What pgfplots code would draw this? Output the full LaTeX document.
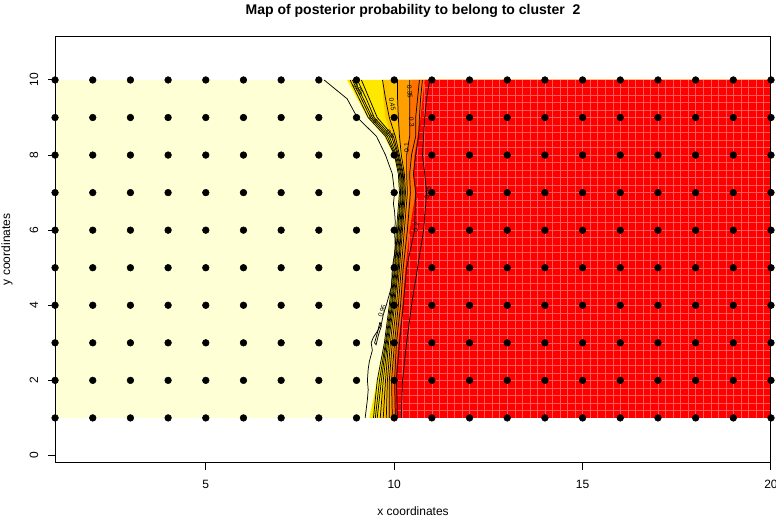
\documentclass[border=0pt]{standalone}
\usepackage{fontspec}
\setmainfont{Liberation Sans}
\usepackage{pgfplots}
\pgfplotsset{compat=1.18}
\definecolor{lyel}{HTML}{FFFFD5}
\definecolor{cyel}{HTML}{FFE800}
\definecolor{cgold}{HTML}{FFC400}
\definecolor{corange}{HTML}{FF9F00}
\definecolor{cdorange}{HTML}{FF7000}
\definecolor{cred}{HTML}{FF0000}
\definecolor{gridred}{HTML}{FF5A5A}
\begin{document}
\begin{tikzpicture}
\begin{axis}[
  scale only axis, width=536.25pt, height=319.5pt,
  xmin=1, xmax=20, ymin=-0.19, ymax=11.17,
  axis line style={black, line width=0.75pt},
  xtick={5,10,15,20}, ytick={0,2,4,6,8,10},
  tick align=outside, tick pos=left, major tick length=5.25pt,
  tick style={black, line width=0.75pt},
  /pgf/number format/assume math mode=true,
  ticklabel style={font=\fontsize{9}{10.8}\selectfont},
  yticklabel style={rotate=90, anchor=base, yshift=7.5pt},
  xticklabel style={anchor=base, yshift=-14.25pt},
  title={Map of posterior probability to belong to cluster\ \ 2},
  title style={font=\bfseries\fontsize{10.5}{12.6}\selectfont, at={(axis description cs:0.5,1)}, anchor=base, yshift=10.5pt},
  xlabel={x coordinates}, ylabel={y coordinates},
  label style={font=\fontsize{9}{10.8}\selectfont},
  xlabel style={at={(axis description cs:0.5,0)}, anchor=base, yshift=-39.75pt},
  ylabel style={at={(axis description cs:0,0.5)}, anchor=base, yshift=33.75pt},
  axis on top,
  clip mode=individual,
]
% colour bands
\addplot[fill=lyel, draw=none] coordinates {(1,1)(20,1)(20,10)(1,10)} --cycle;
\addplot[fill=cyel, draw=none] coordinates {(8.75,10)(9.02,9.5)(9.29,9)(9.74,8.5)(9.98,8)(10.11,7.5)(10.14,7)(10.06,6)(9.98,5)(9.87,4)(9.74,3)(9.55,2)(9.34,1)(20,1)(20,10)} --cycle;
\addplot[fill=cgold, draw=none] coordinates {(9.69,10)(9.71,9.5)(9.77,9)(9.93,8.5)(10.11,8)(10.19,7.5)(10.22,7)(10.14,6)(10.06,5)(9.98,4)(9.85,3)(9.74,2)(9.63,1)(20,1)(20,10)} --cycle;
\addplot[fill=corange, draw=none] coordinates {(10.06,10)(10.09,9.5)(10.09,9)(10.14,8.5)(10.22,8)(10.27,7.5)(10.30,7)(10.22,6)(10.14,5)(10.06,4)(9.95,3)(9.87,2)(9.82,1)(20,1)(20,10)} --cycle;
\addplot[fill=cdorange, draw=none] coordinates {(10.46,10)(10.43,9.5)(10.41,9)(10.41,8.5)(10.35,8)(10.35,7.5)(10.41,7)(10.30,6)(10.22,5)(10.14,4)(10.03,3)(9.95,2)(9.93,1)(20,1)(20,10)} --cycle;
\addplot[fill=cred, draw=none] coordinates {(10.81,10)(10.75,9.5)(10.70,9)(10.62,8.5)(10.54,8)(10.51,7.5)(10.57,7)(10.41,6)(10.30,5)(10.22,4)(10.11,3)(10.03,2)(10.03,1)(20,1)(20,10)} --cycle;
% faint cell edges of the image in the red part
\addplot[gridred, line width=0.3pt, unbounded coords=jump] coordinates {
(10.2,1)(10.2,3.85)(nan,nan)(10.4,1)(10.4,5.9)(nan,nan)(10.6,1)(10.6,6.85)(nan,nan)(10.6,7.15)(10.6,8.3)(nan,nan)(10.8,1)(10.8,9.9)(nan,nan)
(11.0,1)(11.0,10)(nan,nan)(11.2,1)(11.2,10)(nan,nan)(11.4,1)(11.4,10)(nan,nan)(11.6,1)(11.6,10)(nan,nan)(11.8,1)(11.8,10)(nan,nan)
(12.0,1)(12.0,10)(nan,nan)(12.2,1)(12.2,10)(nan,nan)(12.4,1)(12.4,10)(nan,nan)(12.6,1)(12.6,10)(nan,nan)(12.8,1)(12.8,10)(nan,nan)
(13.0,1)(13.0,10)(nan,nan)(13.2,1)(13.2,10)(nan,nan)(13.4,1)(13.4,10)(nan,nan)(13.6,1)(13.6,10)(nan,nan)(13.8,1)(13.8,10)(nan,nan)
(14.0,1)(14.0,10)(nan,nan)(14.2,1)(14.2,10)(nan,nan)(14.4,1)(14.4,10)(nan,nan)(14.6,1)(14.6,10)(nan,nan)(14.8,1)(14.8,10)(nan,nan)
(15.0,1)(15.0,10)(nan,nan)(15.2,1)(15.2,10)(nan,nan)(15.4,1)(15.4,10)(nan,nan)(15.6,1)(15.6,10)(nan,nan)(15.8,1)(15.8,10)(nan,nan)
(16.0,1)(16.0,10)(nan,nan)(16.2,1)(16.2,10)(nan,nan)(16.4,1)(16.4,10)(nan,nan)(16.6,1)(16.6,10)(nan,nan)(16.8,1)(16.8,10)(nan,nan)
(17.0,1)(17.0,10)(nan,nan)(17.2,1)(17.2,10)(nan,nan)(17.4,1)(17.4,10)(nan,nan)(17.6,1)(17.6,10)(nan,nan)(17.8,1)(17.8,10)(nan,nan)
(18.0,1)(18.0,10)(nan,nan)(18.2,1)(18.2,10)(nan,nan)(18.4,1)(18.4,10)(nan,nan)(18.6,1)(18.6,10)(nan,nan)(18.8,1)(18.8,10)(nan,nan)
(19.0,1)(19.0,10)(nan,nan)(19.2,1)(19.2,10)(nan,nan)(19.4,1)(19.4,10)(nan,nan)(19.6,1)(19.6,10)(nan,nan)(19.8,1)(19.8,10)(nan,nan)
(10.08,1.2)(20,1.2)(nan,nan)(10.08,1.4)(20,1.4)(nan,nan)(10.08,1.6)(20,1.6)(nan,nan)(10.08,1.8)(20,1.8)(nan,nan)(10.08,2.0)(20,2.0)(nan,nan)
(10.08,2.2)(20,2.2)(nan,nan)(10.09,2.4)(20,2.4)(nan,nan)(10.11,2.6)(20,2.6)(nan,nan)(10.12,2.8)(20,2.8)(nan,nan)(10.14,3.0)(20,3.0)(nan,nan)
(10.16,3.2)(20,3.2)(nan,nan)(10.18,3.4)(20,3.4)(nan,nan)(10.19,3.6)(20,3.6)(nan,nan)(10.21,3.8)(20,3.8)(nan,nan)(10.25,4.0)(20,4.0)(nan,nan)
(10.27,4.2)(20,4.2)(nan,nan)(10.28,4.4)(20,4.4)(nan,nan)(10.30,4.6)(20,4.6)(nan,nan)(10.31,4.8)(20,4.8)(nan,nan)(10.33,5.0)(20,5.0)(nan,nan)
(10.35,5.2)(20,5.2)(nan,nan)(10.37,5.4)(20,5.4)(nan,nan)(10.39,5.6)(20,5.6)(nan,nan)(10.42,5.8)(20,5.8)(nan,nan)(10.44,6.0)(20,6.0)(nan,nan)
(10.47,6.2)(20,6.2)(nan,nan)(10.50,6.4)(20,6.4)(nan,nan)(10.54,6.6)(20,6.6)(nan,nan)(10.57,6.8)(20,6.8)(nan,nan)(10.60,7.0)(20,7.0)(nan,nan)
(10.58,7.2)(20,7.2)(nan,nan)(10.55,7.4)(20,7.4)(nan,nan)(10.55,7.6)(20,7.6)(nan,nan)(10.56,7.8)(20,7.8)(nan,nan)(10.57,8.0)(20,8.0)(nan,nan)
(10.60,8.2)(20,8.2)(nan,nan)(10.63,8.4)(20,8.4)(nan,nan)(10.67,8.6)(20,8.6)(nan,nan)(10.70,8.8)(20,8.8)(nan,nan)(10.73,9.0)(20,9.0)(nan,nan)
(10.75,9.2)(20,9.2)(nan,nan)(10.77,9.4)(20,9.4)(nan,nan)(10.79,9.6)(20,9.6)(nan,nan)(10.82,9.8)(20,9.8)
};
% contour lines
\addplot[black, line width=0.55pt] coordinates {(8.14,10)(8.75,9.5)(9.02,9)(9.53,8.5)(9.77,8)(9.95,7.5)(10.01,7)(9.98,6.7)(10.01,6.5)(10.03,6.2)(10.01,6)(10.03,5.5)(9.95,5)(9.93,4.5)(9.79,4)(9.71,3.75)(9.66,3.5)(9.55,3.3)(9.45,3.15)(9.39,3)(9.42,2.8)(9.34,2.5)(9.31,2.3)(9.29,2)(9.31,1.75)(9.29,1.5)(9.23,1)};
\addplot[black, line width=0.55pt] coordinates {(9.62,3.55)(9.66,3.45)(9.58,3.2)(9.52,2.95)(9.48,3.0)(9.55,3.25)(9.62,3.55)};
\addplot[black, line width=0.55pt] coordinates {(8.83,10)(9.07,9.5)(9.31,9)(9.77,8.5)(10.01,8)(10.11,7.5)(10.14,7)(10.06,6)(9.98,5)(9.87,4)(9.74,3)(9.55,2)(9.45,1)};
\addplot[black, line width=0.55pt] coordinates {(8.89,10)(9.13,9.5)(9.37,9)(9.82,8.5)(10.03,8)(10.14,7.5)(10.17,7)(10.09,6)(10.01,5)(9.90,4)(9.77,3)(9.61,2)(9.50,1)};
\addplot[black, line width=0.55pt] coordinates {(8.94,10)(9.18,9.5)(9.42,9)(9.87,8.5)(10.06,8)(10.17,7.5)(10.19,7)(10.11,6)(10.03,5)(9.93,4)(9.79,3)(9.66,2)(9.55,1)};
\addplot[black, line width=0.55pt] coordinates {(9.02,10)(9.26,9.5)(9.47,9)(9.93,8.5)(10.09,8)(10.19,7.5)(10.22,7)(10.14,6)(10.06,5)(9.95,4)(9.82,3)(9.71,2)(9.63,1)};
\addplot[black, line width=0.55pt] coordinates {(9.13,10)(9.34,9.5)(9.55,9)(9.98,8.5)(10.11,8)(10.22,7.5)(10.24,7)(10.17,6)(10.09,5)(9.98,4)(9.85,3)(9.77,2)(9.71,1)};
\addplot[black, line width=0.55pt] coordinates {(9.69,10)(9.77,9.5)(9.87,9)(10.03,8.5)(10.14,8)(10.24,7.5)(10.27,7)(10.19,6)(10.11,5)(10.01,4)(9.90,3)(9.82,2)(9.79,1)};
\addplot[black, line width=0.55pt] coordinates {(10.09,10)(10.09,9.5)(10.11,9)(10.14,8.5)(10.19,8)(10.27,7.5)(10.30,7)(10.22,6)(10.14,5)(10.06,4)(9.95,3)(9.87,2)(9.87,1)};
\addplot[black, line width=0.55pt] coordinates {(10.41,10)(10.41,9.5)(10.41,9)(10.41,8.5)(10.33,8)(10.33,7.5)(10.35,7)(10.27,6)(10.19,5)(10.11,4)(10.01,3)(9.93,2)(9.95,1)};
\addplot[black, line width=0.55pt] coordinates {(10.67,10)(10.62,9.5)(10.57,9)(10.57,8.5)(10.46,8)(10.41,7.5)(10.43,7)(10.35,6)(10.24,5)(10.17,4)(10.06,3)(10.01,2)(10.03,1)};
\addplot[black, line width=0.55pt] coordinates {(10.75,10)(10.70,9.5)(10.67,9)(10.65,8.5)(10.57,8)(10.51,7.5)(10.57,7)(10.54,6)(10.33,5)(10.24,4)(10.14,3)(10.06,2)(10.09,1)};
\addplot[black, line width=0.55pt] coordinates {(10.94,10)(10.86,9.5)(10.81,9)(10.78,8.5)(10.75,8)(10.81,7.5)(10.86,7)(10.78,6)(10.62,5)(10.46,4)(10.33,3)(10.22,2)(10.19,1)};
% contour labels
\begin{scope}[every node/.style={font=\fontsize{5}{6}\selectfont, inner sep=0pt}]
\node[rotate=-55] at (axis cs:9.05,9.75) {0.85};
\node[rotate=-50] at (axis cs:9.45,8.95) {0.6};
\node[rotate=-45] at (axis cs:9.90,8.55) {0.5};
\node[rotate=-80] at (axis cs:9.95,9.35) {0.45};
\node[rotate=-85] at (axis cs:10.41,9.68) {0.35};
\node[rotate=-85] at (axis cs:10.46,8.88) {0.3};
\node[rotate=90] at (axis cs:10.33,8.2) {0.1};
\node[rotate=80] at (axis cs:10.89,6.99) {0.05};
\node[rotate=80] at (axis cs:10.59,6.08) {0.2};
\node[rotate=70] at (axis cs:9.68,3.85) {0.95};
\end{scope}
% sites
\addplot[only marks, mark=*, mark size=2.5pt, black] coordinates {
(1,1)(2,1)(3,1)(4,1)(5,1)(6,1)(7,1)(8,1)(9,1)(10,1)(11,1)(12,1)(13,1)(14,1)(15,1)(16,1)(17,1)(18,1)(19,1)(20,1)
(1,2)(2,2)(3,2)(4,2)(5,2)(6,2)(7,2)(8,2)(9,2)(10,2)(11,2)(12,2)(13,2)(14,2)(15,2)(16,2)(17,2)(18,2)(19,2)(20,2)
(1,3)(2,3)(3,3)(4,3)(5,3)(6,3)(7,3)(8,3)(9,3)(10,3)(11,3)(12,3)(13,3)(14,3)(15,3)(16,3)(17,3)(18,3)(19,3)(20,3)
(1,4)(2,4)(3,4)(4,4)(5,4)(6,4)(7,4)(8,4)(9,4)(10,4)(11,4)(12,4)(13,4)(14,4)(15,4)(16,4)(17,4)(18,4)(19,4)(20,4)
(1,5)(2,5)(3,5)(4,5)(5,5)(6,5)(7,5)(8,5)(9,5)(10,5)(11,5)(12,5)(13,5)(14,5)(15,5)(16,5)(17,5)(18,5)(19,5)(20,5)
(1,6)(2,6)(3,6)(4,6)(5,6)(6,6)(7,6)(8,6)(9,6)(10,6)(11,6)(12,6)(13,6)(14,6)(15,6)(16,6)(17,6)(18,6)(19,6)(20,6)
(1,7)(2,7)(3,7)(4,7)(5,7)(6,7)(7,7)(8,7)(9,7)(10,7)(11,7)(12,7)(13,7)(14,7)(15,7)(16,7)(17,7)(18,7)(19,7)(20,7)
(1,8)(2,8)(3,8)(4,8)(5,8)(6,8)(7,8)(8,8)(9,8)(10,8)(11,8)(12,8)(13,8)(14,8)(15,8)(16,8)(17,8)(18,8)(19,8)(20,8)
(1,9)(2,9)(3,9)(4,9)(5,9)(6,9)(7,9)(8,9)(9,9)(10,9)(11,9)(12,9)(13,9)(14,9)(15,9)(16,9)(17,9)(18,9)(19,9)(20,9)
(1,10)(2,10)(3,10)(4,10)(5,10)(6,10)(7,10)(8,10)(9,10)(10,10)(11,10)(12,10)(13,10)(14,10)(15,10)(16,10)(17,10)(18,10)(19,10)(20,10)
};
\end{axis}
\pgfresetboundingbox
\useasboundingbox ([shift={(-41.25pt,-42pt)}]current axis.south west) rectangle ([shift={(3.75pt,27pt)}]current axis.north east);
\end{tikzpicture}
\end{document}
